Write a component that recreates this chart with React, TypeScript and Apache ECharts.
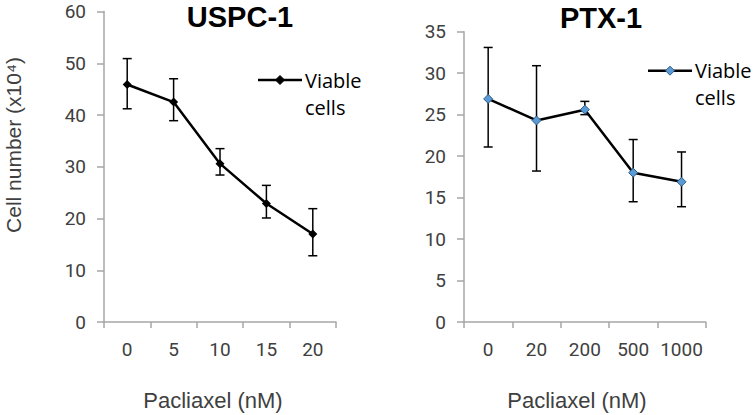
import React, { useEffect, useRef } from "react";
import * as echarts from "echarts";

const uspcCategories = ["0", "5", "10", "15", "20"];
const uspcMean = [45.9, 42.5, 30.6, 22.9, 17.0];
const uspcLow = [41.2, 38.9, 28.4, 20.1, 12.8];
const uspcHigh = [50.9, 47.0, 33.5, 26.4, 21.9];

const ptxCategories = ["0", "20", "200", "500", "1000"];
const ptxMean = [26.9, 24.3, 25.6, 18.0, 16.9];
const ptxLow = [21.1, 18.2, 25.0, 14.5, 13.9];
const ptxHigh = [33.1, 30.9, 26.6, 22.0, 20.5];

const AXIS = "#a6a6a6";
const LABEL = "#404040";
const TICK_FONT = "Roboto, sans-serif";
const LEGEND_FONT = "'Open Sans', sans-serif";
const TITLE_FONT = "'Liberation Sans', Arial, sans-serif";

function errorSeries(xi: number, low: number[], high: number[]) {
  return {
    type: "custom",
    xAxisIndex: xi,
    yAxisIndex: xi,
    silent: true,
    encode: { x: 0, y: [1, 2] },
    data: low.map((l, i) => [i, l, high[i]]),
    renderItem: (params: any, api: any) => {
      const top = api.coord([api.value(0), api.value(2)]);
      const bot = api.coord([api.value(0), api.value(1)]);
      const w = 4.5;
      const st = { stroke: "#000", lineWidth: 1.5 };
      return {
        type: "group",
        children: [
          { type: "line", shape: { x1: top[0], y1: top[1], x2: bot[0], y2: bot[1] }, style: st },
          { type: "line", shape: { x1: top[0] - w, y1: top[1], x2: top[0] + w, y2: top[1] }, style: st },
          { type: "line", shape: { x1: bot[0] - w, y1: bot[1], x2: bot[0] + w, y2: bot[1] }, style: st },
        ],
      };
    },
  };
}

function legendGroup(x0: number, y: number, fill: string, stroke: string) {
  const cx = x0 + 22;
  const r = 4.5;
  return {
    type: "group",
    children: [
      { type: "line", shape: { x1: x0, y1: y, x2: x0 + 44, y2: y }, style: { stroke: "#000", lineWidth: 2.5 } },
      {
        type: "polygon",
        shape: { points: [[cx, y - r], [cx + r, y], [cx, y + r], [cx - r, y]] },
        style: { fill, stroke, lineWidth: 1 },
      },
      {
        type: "text",
        x: x0 + 47,
        y: y,
        style: { text: "Viable", font: `20px ${LEGEND_FONT}`, fill: "#000", align: "left", verticalAlign: "middle" },
      },
      {
        type: "text",
        x: x0 + 47,
        y: y + 27,
        style: { text: "cells", font: `20px ${LEGEND_FONT}`, fill: "#000", align: "left", verticalAlign: "middle" },
      },
    ],
  };
}

export default function App() {
  const ref = useRef<HTMLDivElement>(null);
  useEffect(() => {
    if (!ref.current) return;
    const chart = echarts.init(ref.current, null, { renderer: "svg" });
    const xAxisBase = {
      type: "category",
      boundaryGap: true,
      axisLine: { lineStyle: { color: AXIS, width: 1.5 } },
      axisTick: { show: true, length: 6, lineStyle: { color: AXIS, width: 1.5 } },
      axisLabel: { color: LABEL, fontSize: 19, fontFamily: TICK_FONT, margin: 18, interval: 0 },
      splitLine: { show: false },
    };
    const yAxisBase = {
      type: "value",
      min: 0,
      axisLine: { show: true, lineStyle: { color: AXIS, width: 1.5 } },
      axisTick: { show: true, length: 7, lineStyle: { color: AXIS, width: 1.5 } },
      axisLabel: { color: LABEL, fontSize: 19, fontFamily: TICK_FONT, margin: 18 },
      splitLine: { show: false },
    };
    chart.setOption({
      animation: false,
      grid: [
        { left: 104, top: 11.5, width: 232, height: 310.5 },
        { left: 464, top: 31.7, width: 241.7, height: 290.3 },
      ],
      xAxis: [
        { ...xAxisBase, gridIndex: 0, data: uspcCategories },
        { ...xAxisBase, gridIndex: 1, data: ptxCategories },
      ],
      yAxis: [
        { ...yAxisBase, gridIndex: 0, max: 60, interval: 10 },
        { ...yAxisBase, gridIndex: 1, max: 35, interval: 5 },
      ],
      series: [
        errorSeries(0, uspcLow, uspcHigh),
        errorSeries(1, ptxLow, ptxHigh),
        {
          type: "line",
          name: "Viable cells",
          xAxisIndex: 0,
          yAxisIndex: 0,
          data: uspcMean,
          symbol: "diamond",
          symbolSize: 9,
          itemStyle: { color: "#000" },
          lineStyle: { color: "#000", width: 2.5 },
        },
        {
          type: "line",
          name: "Viable cells",
          xAxisIndex: 1,
          yAxisIndex: 1,
          data: ptxMean,
          symbol: "diamond",
          symbolSize: 9,
          itemStyle: { color: "#5b9bd5", borderColor: "#2e5a87", borderWidth: 1 },
          lineStyle: { color: "#000", width: 2.5 },
        },
      ],
      graphic: [
        {
          type: "text",
          x: 240,
          y: 17,
          style: { text: "USPC-1", font: `bold 29px ${TITLE_FONT}`, fill: "#000", align: "center", verticalAlign: "middle" },
        },
        {
          type: "text",
          x: 601,
          y: 18,
          style: { text: "PTX-1", font: `bold 29px ${TITLE_FONT}`, fill: "#000", align: "center", verticalAlign: "middle" },
        },
        {
          type: "text",
          x: 13,
          y: 145,
          rotation: Math.PI / 2,
          style: { text: "Cell number (x10\u2074)", font: `21px ${TITLE_FONT}`, fill: LABEL, align: "center", verticalAlign: "middle" },
        },
        {
          type: "text",
          x: 213,
          y: 400,
          style: { text: "Pacliaxel (nM)", font: `22px ${TITLE_FONT}`, fill: LABEL, align: "center", verticalAlign: "middle" },
        },
        {
          type: "text",
          x: 577,
          y: 400,
          style: { text: "Pacliaxel (nM)", font: `22px ${TITLE_FONT}`, fill: LABEL, align: "center", verticalAlign: "middle" },
        },
        legendGroup(258, 80, "#000", "#000"),
        legendGroup(648, 70.7, "#5b9bd5", "#2e5a87"),
      ],
    });
    return () => chart.dispose();
  }, []);
  return (
    <div
      ref={ref}
      style={{ position: "fixed", left: 0, top: 0, width: 754, height: 415, background: "#fff" }}
    />
  );
}
